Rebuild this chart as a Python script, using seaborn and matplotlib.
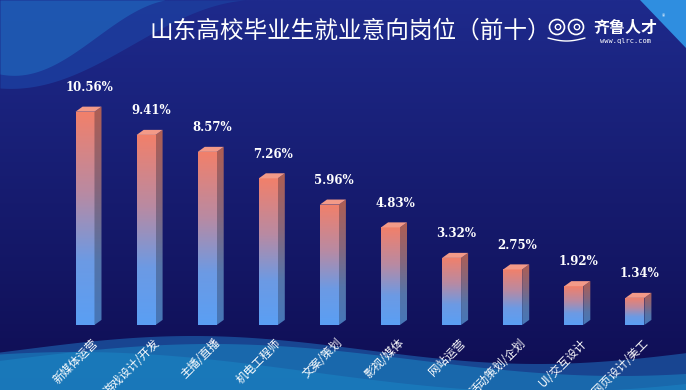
import numpy as np
import matplotlib
matplotlib.use("Agg")
import matplotlib.pyplot as plt
from matplotlib.colors import LinearSegmentedColormap, to_rgb
from matplotlib.patches import Polygon, Circle
import seaborn as sns

categories = ["新媒体运营", "游戏设计/开发", "主播/直播", "机电工程师", "文案/策划",
              "影视/媒体", "网站运营", "活动策划/企划", "UI/交互设计", "网页设计/美工"]
values = [10.56, 9.41, 8.57, 7.26, 5.96, 4.83, 3.32, 2.75, 1.92, 1.34]
value_labels = ["10.56%", "9.41%", "8.57%", "7.26%", "5.96%", "4.83%", "3.32%", "2.75%", "1.92%", "1.34%"]
title = "山东高校毕业生就业意向岗位（前十）"

sns.set_theme(style="white")
plt.rcParams['font.family'] = ['Noto Sans CJK SC', 'DejaVu Sans']

W, H = 686, 390
fig = plt.figure(figsize=(W / 100, H / 100), dpi=100)

# ---------- background ----------
bg = fig.add_axes([0, 0, 1, 1])
bg.set_xlim(0, W)
bg.set_ylim(H, 0)
bg.axis("off")
grad = np.zeros((200, 300, 3))
top = np.array(to_rgb("#1e2a8c"))
bot = np.array(to_rgb("#0d0a4c"))
yy = np.linspace(0, 1, 200)[:, None]
mix = np.clip(yy * 0.9, 0, 1) * np.ones((1, 300))
for c in range(3):
    grad[:, :, c] = top[c] * (1 - mix) + bot[c] * mix
bg.imshow(grad, extent=[0, W, H, 0], aspect="auto", zorder=0)

# top-left wave corner (two layers)
xa = np.linspace(0, 245, 200)
ya = 44 * (1 + np.cos(np.pi * xa / 245)) + 6 * np.sin(np.pi * xa / 245)
bg.fill_between(xa, 0, ya, color="#1c3c9c", alpha=0.9, zorder=1, lw=0)
xb_ = np.linspace(0, 165, 200)
yb_ = 37 * (1 + np.cos(np.pi * xb_ / 165)) + 10 * np.sin(np.pi * xb_ / 165)
bg.fill_between(xb_, 0, yb_, color="#1f5cb4", alpha=0.85, zorder=1, lw=0)
# top-right wedge
bg.add_patch(Polygon([[640, 0], [686, 0], [686, 48]], closed=True, color="#2f8ee0", zorder=1, lw=0))

# bottom waves
xb = np.linspace(0, W, 300)
w1 = 350 - 14 * np.sin((xb - 20) / 110)
bg.fill_between(xb, w1, H, color="#1a4f9c", alpha=0.85, zorder=1, lw=0)
w2 = 372 - 20 * np.sin((xb + 160) / 150)
bg.fill_between(xb, w2, H, color="#1874b6", alpha=0.75, zorder=1, lw=0)
w3 = 360 + 16 * np.cos((xb - 620) / 130)
bg.fill_between(xb, w3, H, color="#1a86c4", alpha=0.55, zorder=1, lw=0)

# title and logo
bg.text(350, 31, title, color="white", fontsize=17, ha="center", va="center", zorder=5)
for cx in (557, 576):
    bg.add_patch(Circle((cx, 27), 7.5, fill=False, ec="white", lw=1.2, zorder=5))
    bg.add_patch(Circle((cx + 1, 27), 2.7, fill=False, ec="white", lw=1, zorder=5))
bg.plot(np.linspace(548, 585, 30), 38 + 3 * np.sin(np.linspace(0, np.pi, 30)), color="white", lw=1, zorder=5)
bg.text(626, 28, "齐鲁人才", color="white", fontsize=11.5, fontweight="bold", ha="center", va="center", zorder=5)
bg.text(626, 41, "www.qlrc.com", color="white", fontsize=5, ha="center", va="center",
        family=["DejaVu Sans Mono"], zorder=5)
bg.text(664, 17, "®", color="white", fontsize=5, ha="center", va="center", zorder=5)

# ---------- bars ----------
ax = fig.add_axes([0, 0, 1, 1])
ax.patch.set_alpha(0)
sns.barplot(x=categories, y=values, width=0.31, color="#6a9be6", ax=ax, zorder=3)
XL = (-1.391, 9.836)
YL = (-3.22, 16.09)

front_cmap = LinearSegmentedColormap.from_list(
    "front", [(0, "#5a9ff4"), (0.3, "#6c9ae4"), (0.62, "#b98aa2"), (1, "#f2806a")])
side_cmap = LinearSegmentedColormap.from_list(
    "side", [(0, "#4677b8"), (0.3, "#5474aa"), (0.62, "#86667c"), (1, "#b05e52")])
gimg = np.linspace(0, 1, 256)[:, None]

dx = 0.115
dy = 0.25
for i, p in enumerate(ax.patches):
    x0 = p.get_x()
    w = p.get_width()
    h = p.get_height()
    x1 = x0 + w
    p.set_facecolor("none")
    p.set_edgecolor("none")
    im = ax.imshow(gimg, cmap=front_cmap, extent=[x0, x1, 0, h], origin="lower",
                   aspect="auto", zorder=4)
    im.set_clip_path(p)
    side = Polygon([[x1, 0], [x1 + dx, dy], [x1 + dx, h + dy], [x1, h]], closed=True,
                   fc="none", ec="none")
    ax.add_patch(side)
    ims = ax.imshow(gimg, cmap=side_cmap, extent=[x1, x1 + dx, 0, h + dy], origin="lower",
                    aspect="auto", zorder=4)
    ims.set_clip_path(side)
    ax.add_patch(Polygon([[x0, h], [x1, h], [x1 + dx, h + dy], [x0 + dx, h + dy]], closed=True,
                         fc="#f39a88", ec="none", zorder=5))
    ax.text(x0 + (w + dx) / 2 + 0.02, h + 1.2, value_labels[i], color="white", fontsize=8.5,
            fontweight="bold", ha="center", va="center", family=["DejaVu Serif"], zorder=6)
    ax.text(x0 + w * 0.85, -0.55, categories[i], color="white", fontsize=8.3,
            rotation=45, ha="right", va="top", rotation_mode="anchor", zorder=6)

ax.set_xlim(*XL)
ax.set_ylim(*YL)
ax.axis("off")

fig.savefig("out.png", dpi=100)
